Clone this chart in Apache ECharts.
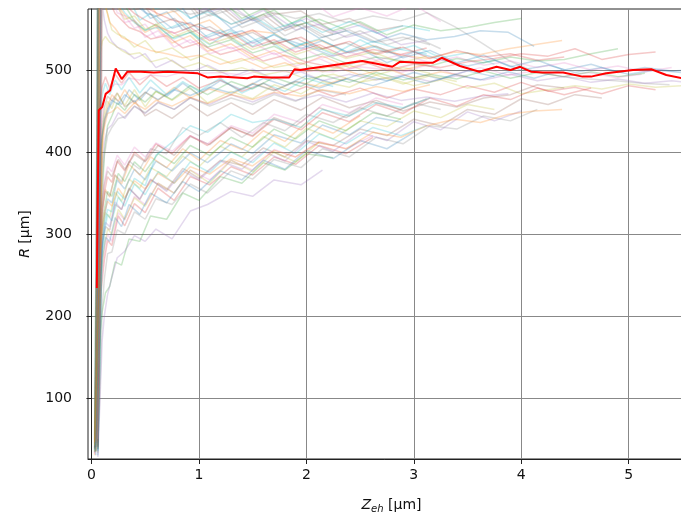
<!DOCTYPE html>
<html><head><meta charset="utf-8">
<script src="https://cdn.jsdelivr.net/npm/echarts@6/dist/echarts.min.js"></script>
<style>html,body{margin:0;padding:0;background:#fff}#c{width:681px;height:515px}</style>
</head><body><div id="c"></div>
<script>
// three sampling grids of Z_eh (µm) used by the individual runs
const xGridA = [0.04, 0.06, 0.08, 0.1, 0.13, 0.17, 0.22, 0.28, 0.35, 0.45, 0.55, 0.7, 0.85, 1.0, 1.2, 1.4, 1.6, 1.8, 2.0, 2.25, 2.5, 2.75, 3.0, 3.25, 3.5, 3.75, 4.0, 4.25, 4.5, 4.75, 5.0, 5.25, 5.5];
const xGridB = [0.03, 0.05, 0.07, 0.09, 0.12, 0.15, 0.19, 0.25, 0.31, 0.4, 0.5, 0.62, 0.77, 0.92, 1.1, 1.3, 1.5, 1.7, 1.9, 2.12, 2.37, 2.62, 2.88, 3.12, 3.38, 3.62, 3.88, 4.12, 4.38, 4.62, 4.88, 5.12, 5.38, 5.5];
const xGridC = [0.06, 0.08, 0.1, 0.12, 0.15, 0.19, 0.24, 0.31, 0.4, 0.5, 0.6, 0.75, 0.92, 1.08, 1.3, 1.5, 1.7, 1.95, 2.15, 2.4, 2.65, 2.9, 3.15, 3.4, 3.65, 3.9, 4.15, 4.4, 4.65, 4.9, 5.15, 5.4, 5.55];

// R (µm) of each individual run
const faintLines = [
 [40, 350, 900, 760, 690, 642, 631, 601, 588, 579, 563, 571, 549, 556, 541, 548, 530, 538, 529, 517, 526, 509, 522, 513, 505, 512, 500, 506, 497, 503, 495, 500, 497],
 [30, 250, 800, 1000, 760, 690, 652, 617, 603, 585, 589, 566, 572, 553, 561, 540, 548, 545, 528, 537, 521, 530, 518, 514, 522, 519, 526, 531, 536],
 [60, 520, 980, 720, 651, 612, 588, 579, 560, 548, 556, 539, 546, 528, 537, 521, 529, 513, 520, 507, 516, 511, 505, 514, 509, 516, 511, 513, 520, 526],
 [35, 280, 700, 640, 601, 583, 569, 561, 552, 547, 538, 542, 527, 533, 519, 526, 511, 518, 510, 503, 512, 500, 507, 503, 510, 514, 520, 517, 526, 513, 519, 522],
 [55, 420, 1100, 1300, 900, 790, 722, 681, 660, 628, 611, 603, 589, 592, 571, 579, 560, 567, 549, 556, 540, 548, 531, 536],
 [45, 380, 1200, 1000, 870, 790, 741, 703, 668, 650, 627, 614, 603, 590, 581, 585, 568, 572, 556, 563, 548, 554],
 [40, 450, 1300, 1100, 950, 851, 812, 748, 731, 680, 681, 640, 648, 611, 620, 592, 601, 577, 589, 565, 576, 566, 580, 559],
 [50, 200, 640, 800, 700, 655, 631, 610, 598, 590, 581, 583, 571, 579, 566, 574, 561, 570, 563, 569, 558, 566, 560, 570, 553, 534, 512, 498, 492, 489, 487, 484, 482],
 [38, 260, 600, 582, 569, 549, 544, 540, 528, 536, 521, 527, 512, 520, 508, 515, 503, 509, 498, 506, 494, 503, 496],
 [42, 390, 850, 720, 668, 621, 612, 583, 587, 561, 569, 550, 558, 538, 549, 530, 541, 523, 534, 519, 537, 521, 530, 515, 521, 507],
 [48, 330, 1000, 850, 760, 699, 660, 642, 618, 606, 594, 582, 589, 563, 574, 551, 562, 545, 556, 539, 548, 534, 545, 537, 541, 548, 546, 529],
 [33, 300, 750, 660, 622, 593, 580, 567, 559, 546, 553, 533, 542, 523, 532, 515, 524, 507, 517, 503, 511, 500, 508],
 [52, 460, 1100, 950, 820, 741, 708, 661, 654, 615, 618, 590, 601, 575, 586, 563, 575, 553, 566, 548, 559, 543, 555, 548, 552, 558, 563],
 [44, 260, 820, 900, 700, 652, 618, 597, 580, 569, 561, 553, 545, 552, 536, 545, 528, 537, 522, 531, 516, 525, 519, 527],
 [36, 240, 580, 561, 545, 535, 528, 524, 514, 520, 503, 512, 497, 506, 492, 501, 489, 498, 487, 495, 488, 494, 486, 493, 488, 495, 487, 492, 485, 489, 484, 487, 485],
 [58, 480, 1000, 820, 745, 680, 669, 630, 629, 601, 608, 581, 590, 568, 578, 557, 568, 548, 558, 544],
 [40, 180, 520, 700, 640, 611, 590, 576, 558, 561, 540, 548, 528, 537, 520, 528, 512, 521, 505, 514, 500, 510, 497, 506, 495, 503, 494, 499, 492, 497, 491, 495],
 [46, 420, 950, 800, 721, 668, 641, 618, 606, 592, 584, 575, 568, 573, 556, 564, 548, 556, 540, 549, 534, 540, 531],
 [34, 200, 520, 535, 541, 534, 530, 524, 519, 521, 510, 515, 503, 509, 497, 503, 494, 499, 489, 495, 485, 491, 481, 488, 478, 484, 471, 476, 481, 477, 483, 479, 481],
 [50, 250, 780, 820, 680, 631, 599, 582, 570, 558, 549, 552, 538, 546, 531, 548, 529, 544, 530, 538, 522, 535, 525, 520],
 [41, 360, 880, 740, 681, 640, 614, 594, 581, 570, 566, 551, 558, 540, 550, 533, 543, 526, 536, 521, 529, 515, 524, 509, 518, 504, 512, 500, 507, 497, 503, 499, 500],
 [37, 270, 640, 600, 579, 558, 551, 540, 536, 529, 524, 520, 515, 518, 507, 514, 502, 509, 498, 505, 494, 502, 490, 498, 492],
 [53, 400, 1200, 1100, 1000, 870, 790, 741, 692, 676, 632, 628, 598, 605, 576, 587, 563, 573, 554, 562, 549],
 [47, 400, 900, 760, 692, 648, 627, 602, 589, 577, 570, 561, 556, 549, 541, 549, 532, 540, 526, 535, 519, 528, 514, 524, 516, 520, 512, 516],
 [45, 500, 1050, 880, 790, 720, 690, 655, 640, 611, 614, 588, 597, 572, 583, 560, 573, 552, 563, 546, 555, 540],
 [39, 220, 700, 900, 720, 660, 628, 600, 594, 574, 577, 557, 563, 546, 553, 538, 546, 531, 539, 525, 533, 520, 528],
 [43, 330, 760, 650, 610, 588, 570, 566, 551, 556, 540, 547, 533, 540, 526, 534, 519, 528, 515, 522, 512, 519, 509, 516, 506, 511, 503, 509, 500, 505, 498, 503],
 [51, 440, 1000, 860, 770, 705, 676, 634, 632, 600, 603, 581, 588, 562, 573, 552, 562, 542, 554, 536, 548, 531, 541, 526],
 [36, 240, 620, 760, 650, 612, 589, 576, 562, 566, 550, 556, 541, 549, 532, 540, 525, 534, 519, 528, 514, 522, 509, 517],
 [49, 410, 920, 780, 700, 657, 629, 611, 593, 585, 575, 580, 563, 571, 556, 566, 550, 561, 546, 559, 545, 554, 548],
 [30, 180, 380, 420, 441, 455, 466, 458, 476, 463, 479, 468, 484, 470, 487, 476, 490, 481, 493, 484, 495, 487, 497, 489, 499, 492],
 [45, 120, 260, 400, 437, 455, 470, 462, 476, 459, 473, 463, 479, 466, 477, 470, 484, 475, 486, 480, 490],
 [38, 150, 340, 400, 432, 444, 460, 451, 470, 461, 474, 464, 481, 470, 486, 477, 491, 480, 494, 485, 497, 488, 495, 489, 499, 490, 497, 492, 498, 492, 496],
 [50, 260, 460, 480, 492, 478, 495, 484, 497, 482, 494, 480, 491, 478, 488, 474, 484, 470, 480, 468, 478, 466, 477, 470, 481, 473, 485, 474, 479, 471, 481, 476],
 [33, 110, 250, 370, 412, 428, 433, 448, 441, 456, 447, 461, 452, 466, 458, 470, 461, 472, 463, 470, 461, 472, 463, 467, 462, 468, 471],
 [42, 240, 430, 455, 468, 463, 472, 455, 463, 444, 452, 441, 458, 444, 460, 446, 464, 451, 467, 454, 463, 450, 461, 455, 466, 470, 482, 478],
 [36, 200, 410, 450, 472, 477, 483, 482, 490, 488, 494, 492, 498, 496, 497, 494, 500, 498, 499, 498, 504, 500, 499],
 [44, 100, 230, 350, 395, 420, 430, 441, 443, 456, 448, 460, 452, 466, 456, 466, 458, 470, 462, 476, 470],
 [40, 210, 420, 445, 462, 453, 472, 457, 476, 455, 474, 463, 478, 460, 474, 465, 482, 471, 486, 479, 494, 483, 493, 486],
 [55, 230, 440, 470, 484, 470, 488, 476, 491, 472, 488, 470, 486, 474, 490, 472, 484, 474, 490, 480],
 [38, 150, 300, 410, 440, 452, 463, 458, 470, 461, 473, 464, 476, 469, 479, 472, 483, 475, 486, 478, 489, 481, 492, 484, 495, 488, 498, 490, 500],
 [47, 220, 400, 430, 447, 449, 455, 447, 460, 452, 463, 456, 467, 459, 470, 464, 473, 468, 476, 471, 480, 474, 482],
 [35, 120, 180, 205, 228, 236, 266, 262, 294, 291, 322, 318, 350, 341, 370, 362, 387, 378, 398, 393],
 [40, 80, 150, 230, 268, 292, 286, 322, 310, 337, 326, 356, 341, 370, 360, 382, 372, 394, 385, 408, 398, 418],
 [28, 100, 170, 200, 226, 247, 271, 279, 298, 291, 306, 294, 328, 336, 352, 346, 366, 360, 378],
 [45, 150, 250, 285, 309, 305, 336, 330, 356, 342, 366, 354, 380, 368, 390, 384, 405, 394, 414, 408, 428, 420, 440, 432, 452, 446, 465, 458, 470, 466],
 [32, 90, 170, 240, 278, 300, 291, 326, 317, 346, 336, 362, 350, 378, 366, 390, 378, 403, 394, 413, 404, 420],
 [38, 110, 210, 245, 276, 278, 305, 300, 327, 318, 343, 336, 361, 350, 377, 367, 391, 381, 404, 394, 418, 410, 432, 428, 444, 438, 452],
 [42, 160, 270, 300, 326, 320, 351, 340, 367, 356, 381, 370, 395, 382, 407, 394, 419, 406, 429, 416, 438, 431, 450, 442, 458, 452],
 [36, 100, 200, 270, 300, 324, 316, 345, 334, 361, 348, 376, 362, 388, 375, 400, 387, 411, 398, 422, 410, 430, 420, 432],
 [30, 170, 290, 320, 343, 338, 366, 355, 379, 366, 389, 377, 399, 387, 410, 398, 421, 411, 433, 421, 442, 436],
 [48, 180, 300, 330, 354, 345, 372, 361, 385, 372, 394, 381, 404, 390, 414, 403, 426, 413, 436, 423, 444],
 [34, 120, 230, 300, 330, 352, 346, 374, 364, 388, 376, 398, 386, 408, 396, 418, 406, 428, 416, 438, 426, 448, 440],
 [40, 200, 320, 350, 370, 363, 389, 377, 400, 389, 410, 398, 420, 408, 430, 419, 440, 427, 448, 437, 458, 447, 466, 456, 470, 464, 478, 470, 478],
 [44, 150, 260, 290, 314, 309, 339, 330, 355, 343, 367, 352, 377, 366, 389, 379, 401, 389, 413, 401, 424, 414, 437, 427, 449, 438, 450],
 [38, 130, 250, 330, 360, 377, 370, 391, 379, 397, 388, 408, 396, 419, 409, 430, 420, 442, 432, 454, 442, 461, 452, 465],
 [50, 230, 340, 365, 382, 376, 396, 384, 406, 394, 411, 401, 420, 410, 432, 423, 446, 436, 458, 448, 466, 458],
 [36, 190, 300, 330, 352, 346, 372, 364, 389, 379, 404, 398, 430, 420, 436, 418, 436, 426, 446, 436, 454, 444, 460, 452],
 [42, 110, 190, 250, 285, 306, 300, 330, 318, 344, 334, 362, 350, 378, 362, 390, 376, 400, 388, 412],
 [35, 160, 280, 310, 330, 327, 352, 342, 368, 359, 396, 412, 432, 424, 446, 436, 440, 430, 452, 444, 460, 454, 466],
 [40, 140, 240, 270, 296, 291, 320, 309, 336, 324, 350, 338, 364, 352, 377, 366, 390, 379, 402, 392, 414, 404, 424],
 [46, 150, 240, 300, 325, 340, 334, 356, 344, 365, 355, 374, 362, 382, 373, 392, 383, 402, 394, 412, 404, 424, 418, 432, 440, 436, 446, 450, 452]
];

// mean curve (red)
const redX = [0.05, 0.068, 0.08, 0.1, 0.133, 0.174, 0.226, 0.282, 0.335, 0.46, 0.58, 0.71, 0.85, 0.99, 1.08, 1.2, 1.45, 1.51, 1.65, 1.84, 1.89, 1.94, 2.03, 2.15, 2.31, 2.52, 2.68, 2.8, 2.87, 3.05, 3.18, 3.26, 3.43, 3.61, 3.77, 3.9, 3.99, 4.09, 4.2, 4.39, 4.57, 4.65, 4.79, 5.04, 5.21, 5.35, 5.5];
const redY = [234, 451, 452, 455, 471, 475, 502, 489, 498, 498, 497, 498, 497, 496, 491, 492, 490, 492, 491, 491, 501, 500, 502, 504, 507, 511, 507, 504, 510, 509, 509, 515, 505, 498, 504, 500, 504, 498, 497, 497, 492, 492, 496, 500, 501, 494, 490];

const xTicks = [0, 1, 2, 3, 4, 5];
const yTicks = [100, 200, 300, 400, 500];
const palette = ['#1f77b4', '#ff7f0e', '#2ca02c', '#d62728', '#9467bd', '#8c564b', '#e377c2', '#7f7f7f', '#bcbd22', '#17becf'];
const grids = [xGridA, xGridB, xGridC];

const chart = echarts.init(document.getElementById('c'), null, {renderer: 'canvas'});
const series = faintLines.map((ys, k) => {
  const gx = grids[k % 3];
  return {
    type: 'line',
    data: ys.map((y, i) => [gx[i], y]),
    symbol: 'none',
    silent: true,
    clip: true,
    z: 2,
    lineStyle: {color: palette[k % 10], width: 1.5, opacity: 0.25},
    itemStyle: {color: palette[k % 10]}
  };
});
series.push({
  type: 'line',
  data: redX.map((x, i) => [x, redY[i]]),
  symbol: 'none',
  silent: true,
  clip: true,
  z: 3,
  lineStyle: {color: '#ff0000', width: 2},
  itemStyle: {color: '#ff0000'}
});

const axisColor = '#222';
const txt = {fontFamily: 'DejaVu Sans', fontSize: 14, color: '#111'};
chart.setOption({
  animation: false,
  grid: {left: 88, right: -14, top: 9, bottom: 56, show: true, borderColor: axisColor, borderWidth: 1, containLabel: false, outerBoundsMode: 'none'},
  xAxis: {
    type: 'value', min: -0.032, max: 5.617,
    axisLine: {show: true, lineStyle: {color: axisColor, width: 1}},
    axisTick: {show: true, length: 5, inside: false, customValues: xTicks, lineStyle: {color: axisColor}},
    axisLabel: Object.assign({customValues: xTicks, margin: 9}, txt),
    splitLine: {show: true, lineStyle: {color: '#888', width: 1}},
    name: '{i|Z}{s|eh}{n| [µm]}', nameLocation: 'middle', nameGap: 37,
    nameTextStyle: {fontFamily: 'DejaVu Sans', fontSize: 14, color: '#111', rich: {
      i: {fontFamily: 'DejaVu Sans', fontSize: 14, fontStyle: 'italic', color: '#111'},
      s: {fontFamily: 'DejaVu Sans', fontSize: 10, fontStyle: 'italic', color: '#111', padding: [8, 0, 0, 0]},
      n: {fontFamily: 'DejaVu Sans', fontSize: 14, color: '#111'}
    }}
  },
  yAxis: {
    type: 'value', min: 25.5, max: 574.5,
    axisLine: {show: true, lineStyle: {color: axisColor, width: 1}},
    axisTick: {show: true, length: 5, inside: false, customValues: yTicks, lineStyle: {color: axisColor}},
    axisLabel: Object.assign({customValues: yTicks, margin: 16}, txt),
    splitLine: {show: true, lineStyle: {color: '#888', width: 1}},
    name: '{i|R}{n| [µm]}', nameLocation: 'middle', nameGap: 56,
    nameTextStyle: {fontFamily: 'DejaVu Sans', fontSize: 14, color: '#111', rich: {
      i: {fontFamily: 'DejaVu Sans', fontSize: 14, fontStyle: 'italic', color: '#111'},
      n: {fontFamily: 'DejaVu Sans', fontSize: 14, color: '#111'}
    }}
  },
  series: series
});
</script>
</body></html>
